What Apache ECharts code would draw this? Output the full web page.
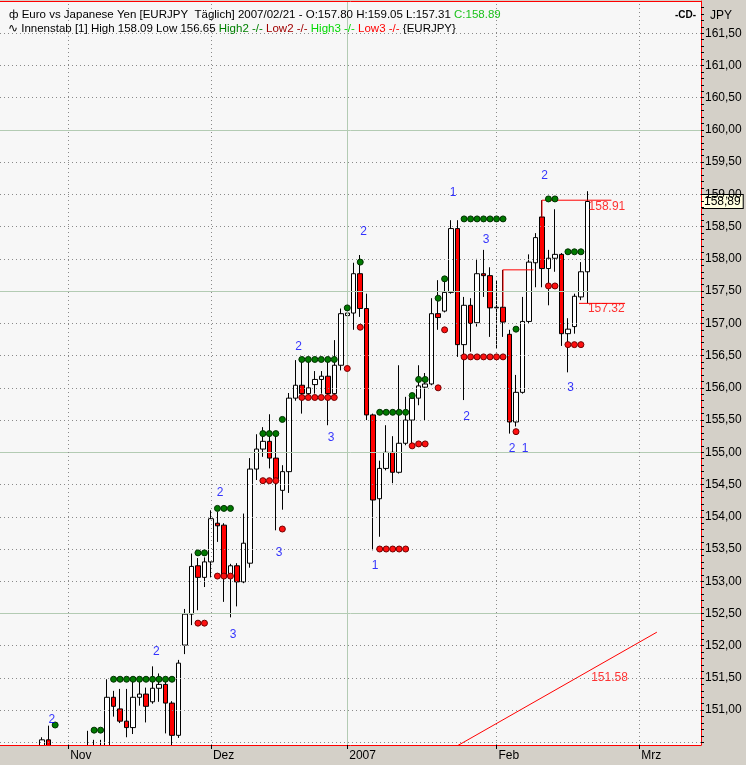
<!DOCTYPE html>
<html><head><meta charset="utf-8">
<script src="https://cdn.jsdelivr.net/npm/echarts@6/dist/echarts.min.js"></script>
<style>html,body{margin:0;padding:0;background:#D4D0C8}#c{width:746px;height:765px}</style>
</head><body><div id="c"></div>
<script>
// ---- categories: trading days (Oct 18 2006 .. Feb 21 2007) + future calendar days
const days = [
 '2006-10-18','2006-10-19','2006-10-20','2006-10-23','2006-10-24','2006-10-25','2006-10-26','2006-10-27','2006-10-30','2006-10-31',
 '2006-11-01','2006-11-02','2006-11-03','2006-11-06','2006-11-07','2006-11-08','2006-11-09','2006-11-10','2006-11-13','2006-11-14','2006-11-15','2006-11-16','2006-11-17','2006-11-20','2006-11-21','2006-11-22','2006-11-23','2006-11-24','2006-11-27','2006-11-28','2006-11-29','2006-11-30',
 '2006-12-01','2006-12-04','2006-12-05','2006-12-06','2006-12-07','2006-12-08','2006-12-11','2006-12-12','2006-12-13','2006-12-14','2006-12-15','2006-12-18','2006-12-19','2006-12-20','2006-12-21','2006-12-22','2006-12-25','2006-12-26','2006-12-27','2006-12-28','2006-12-29',
 '2007-01-01','2007-01-02','2007-01-03','2007-01-04','2007-01-05','2007-01-08','2007-01-09','2007-01-10','2007-01-11','2007-01-12','2007-01-15','2007-01-16','2007-01-17','2007-01-18','2007-01-19','2007-01-22','2007-01-23','2007-01-24','2007-01-25','2007-01-26','2007-01-29','2007-01-30','2007-01-31',
 '2007-02-01','2007-02-02','2007-02-05','2007-02-06','2007-02-07','2007-02-08','2007-02-09','2007-02-12','2007-02-13','2007-02-14','2007-02-15','2007-02-16','2007-02-19','2007-02-20','2007-02-21',
 '2007-02-22','2007-02-23','2007-02-24','2007-02-25','2007-02-26','2007-02-27','2007-02-28',
 '2007-03-01','2007-03-02','2007-03-03','2007-03-04','2007-03-05','2007-03-06','2007-03-07','2007-03-08','2007-03-09','2007-03-10'
];
const monthLabels = {'2006-11-01':'Nov','2006-12-01':'Dez','2007-01-01':'2007','2007-02-01':'Feb','2007-03-01':'Mrz'};
const yearStart = '2007-01-01';

// ---- OHLC
const opens = [149.62,149.80,149.70,149.95,150.20,150.05,150.30,150.54,150.25,150.10,
 149.80,150.00,149.90,150.25,150.40,150.30,150.42,151.20,151.02,150.83,150.73,151.20,151.25,151.13,151.34,151.40,151.11,150.61,152.01,152.49,153.24,153.06,
 153.30,153.90,153.87,153.08,153.24,152.99,153.28,154.74,155.05,155.17,154.91,154.41,154.70,155.84,156.04,155.91,156.05,156.13,156.18,155.91,156.35,
 157.12,157.16,157.77,157.23,155.58,154.28,154.75,155.00,154.69,155.14,155.50,155.84,156.01,156.06,157.15,157.19,157.48,158.47,156.67,157.28,157.01,157.77,157.74,
 157.24,157.25,156.83,155.47,155.93,157.03,157.94,158.65,157.85,158.01,158.07,156.84,156.95,157.41,157.80];
const highs = [149.95,150.05,150.10,150.30,150.40,150.35,150.58,150.76,150.42,150.30,
 150.20,150.30,150.40,150.68,150.54,150.54,151.48,151.30,151.33,151.33,151.45,151.45,151.35,151.68,151.57,151.52,151.14,151.78,152.57,153.43,153.36,153.37,
 154.10,154.08,153.90,153.27,153.28,154.05,154.91,155.28,155.39,155.59,155.30,154.80,155.92,156.43,156.40,156.44,156.26,156.26,156.40,156.74,157.23,
 157.20,157.94,158.06,157.46,155.60,154.87,155.42,155.25,156.35,155.86,155.91,156.35,156.23,157.39,157.67,157.69,158.60,158.60,157.41,157.39,158.00,158.14,157.87,
 157.67,157.83,156.90,156.20,157.41,158.07,158.40,158.91,158.14,158.77,158.09,157.08,157.46,157.95,159.05];
const lows = [149.40,149.55,149.50,149.75,149.90,149.85,150.15,150.05,149.90,149.60,
 149.60,149.70,149.80,150.00,150.10,150.10,150.30,150.90,150.80,150.58,150.63,151.07,150.81,151.10,151.13,150.64,150.45,150.57,151.87,152.32,152.55,152.91,
 153.06,153.61,152.68,152.44,152.61,152.97,153.21,154.57,154.93,154.75,153.79,154.11,154.37,155.80,155.60,155.85,155.91,155.91,155.42,155.85,156.27,
 157.05,156.90,157.10,155.50,153.48,153.69,154.72,154.52,154.67,155.11,155.09,155.73,155.50,156.04,156.90,157.17,157.46,156.48,155.81,156.56,156.95,157.41,156.79,
 156.61,156.79,155.29,155.40,155.91,157.00,157.56,157.56,157.28,157.80,156.65,156.24,156.84,157.36,157.31];
const closes = [149.80,149.70,149.95,150.20,150.05,150.30,150.54,150.25,150.10,149.80,
 150.00,149.90,150.25,150.40,150.30,150.42,151.20,151.06,150.83,150.73,151.20,151.25,151.06,151.34,151.40,151.11,150.61,151.73,152.49,153.23,153.06,153.30,
 153.97,153.86,153.07,153.24,152.99,153.59,154.74,155.05,155.17,154.91,154.56,154.70,155.84,156.04,155.91,156.00,156.13,156.18,155.91,156.35,157.15,
 157.16,157.77,157.23,155.58,154.26,154.75,155.00,154.69,155.14,155.50,155.84,156.03,156.06,157.15,157.09,157.48,158.47,156.67,157.28,157.00,157.77,157.74,157.24,
 157.25,157.02,155.47,155.93,157.03,157.95,158.33,157.85,158.01,158.07,156.84,156.91,157.42,157.80,158.89];

// ---- Innenstab levels [category index, price]
const highDots = [[8,150.77],[14,150.69],[15,150.69],
 [17,151.48],[18,151.48],[19,151.48],[20,151.48],[21,151.48],[22,151.48],[23,151.48],[24,151.48],[25,151.48],[26,151.48],
 [30,153.44],[31,153.44],[33,154.13],[34,154.13],[35,154.13],[40,155.29],[41,155.29],[42,155.29],[43,155.51],
 [46,156.44],[47,156.44],[48,156.44],[49,156.44],[50,156.44],[51,156.44],[53,157.24],[55,157.95],
 [58,155.62],[59,155.62],[60,155.62],[61,155.62],[62,155.62],[63,155.88],[64,156.13],[65,156.13],[67,157.39],[68,157.69],
 [71,158.62],[72,158.62],[73,158.62],[74,158.62],[75,158.62],[76,158.62],[77,158.62],[79,156.91],
 [84,158.93],[85,158.93],[87,158.11],[88,158.11],[89,158.11]];
const lowDots = [[30,152.35],[31,152.35],[33,153.08],[34,153.08],[35,153.08],[40,154.56],[41,154.56],[42,154.56],[43,153.81],
 [46,155.85],[47,155.85],[48,155.85],[49,155.85],[50,155.85],[51,155.85],[53,156.30],[55,156.94],
 [58,153.50],[59,153.50],[60,153.50],[61,153.50],[62,153.50],[63,155.10],[64,155.13],[65,155.13],[67,156.00],[68,156.90],
 [71,156.48],[72,156.48],[73,156.48],[74,156.48],[75,156.48],[76,156.48],[77,156.48],[79,155.32],
 [84,157.58],[85,157.58],[87,156.67],[88,156.67],[89,156.67]];
// counting labels [x index, price, text]
const countLabels = [[7.5,150.85,'2'],[23.6,151.91,'2'],[33.4,154.37,'2'],[35.4,152.17,'3'],[42.5,153.44,'3'],[45.5,156.64,'2'],
 [50.5,155.22,'3'],[55.5,158.42,'2'],[57.3,153.24,'1'],[69.3,159.02,'1'],[74.4,158.30,'3'],[71.4,155.55,'2'],
 [78.4,155.05,'2'],[80.4,155.05,'1'],[83.4,159.29,'2'],[87.4,156.00,'3']];
// red drawing lines
const redLine1 = [[77,157.26],[77,157.83],[81.7,157.83]];
const redLine2 = [[83,158.65],[83,158.91],[93.7,158.91]];
const redLine3 = [[88.7,157.31],[95.8,157.31]];
const trendLine = [[70,150.45],[100.7,152.21]];
const redTexts = [[90.1,158.81,'158.91'],[90.0,157.22,'157.32'],[90.5,151.50,'151.58']];
const lastPrice = 158.89;

// ---- axis ticks
const priceLevels = [150.5,151.0,151.5,152.0,152.5,153.0,153.5,154.0,154.5,155.0,155.5,156.0,156.5,157.0,157.5,158.0,158.5,159.0,159.5,160.0,160.5,161.0,161.5];
const yLabels = priceLevels.slice(1);
const minorTicks = [];
for (let v = 1505; v <= 1619; v++) minorTicks.push(v / 10);

const candleData = opens.map((o, j) => [o, closes[j], lows[j], highs[j]]);
const comma = v => v.toFixed(2).replace('.', ',');

const FONT = 'Liberation Sans, Arial, sans-serif';
const dotted = {type: [1, 3], color: '#8a8a8a', width: 1};
const solid = {type: 'solid', color: '#b3cbb3', width: 1};

const gridMarks = [];
priceLevels.forEach(v => gridMarks.push({yAxis: v, lineStyle: (Math.round(v * 10) % 25 === 0) ? solid : dotted}));
Object.keys(monthLabels).forEach(d => gridMarks.push({xAxis: d, lineStyle: d === yearStart ? solid : dotted}));

const chart = echarts.init(document.getElementById('c'), null, {renderer: 'canvas'});
chart.setOption({
  animation: false,
  backgroundColor: '#D4D0C8',
  textStyle: {fontFamily: FONT},
  graphic: [
    {type: 'rect', z: 50, silent: true, shape: {x: 0, y: 746, width: 746, height: 19}, style: {fill: '#D4D0C8'}}
  ],
  title: [
    {left: 4, top: 4, text: '{ic|ф} Euro vs Japanese Yen [EURJPY  Täglich] 2007/02/21 - O:157.80 H:159.05 L:157.31 {g|C:158.89}',
     textStyle: {fontSize: 11.5, fontWeight: 'normal', color: '#000', fontFamily: FONT, rich: {ic: {fontSize: 11.5, color: '#000'}, g: {fontSize: 11.5, color: '#1cc21c'}}}},
    {left: 3, top: 18, text: '{ic|∿} Innenstab [1] High 158.09 Low 156.65 {h2|High2 -/-} {l2|Low2 -/-} {h3|High3 -/-} {l3|Low3 -/-} {EURJPY}',
     textStyle: {fontSize: 11.5, fontWeight: 'normal', color: '#000', fontFamily: FONT, rich: {ic: {fontSize: 11.5, color: '#000'}, h2: {fontSize: 11.5, color: '#008000'}, l2: {fontSize: 11.5, color: '#a00000'}, h3: {fontSize: 11.5, color: '#00d800'}, l3: {fontSize: 11.5, color: '#ff0000'}}}},
    {left: 705, top: 5, text: 'JPY', textStyle: {fontSize: 12, fontWeight: 'normal', color: '#000', fontFamily: FONT}},
    {left: 670, top: 5, text: '-CD-', textStyle: {fontSize: 10, fontWeight: 'bold', color: '#000', backgroundColor: '#fff', fontFamily: FONT}}
  ],
  grid: {left: 0, top: 1, width: 701, height: 744, show: true, backgroundColor: '#F7F7F7', borderWidth: 0},
  xAxis: [
    {type: 'category', data: days, boundaryGap: true, position: 'bottom', z: 100,
     axisLine: {show: true, onZero: false, lineStyle: {color: '#ff0000', width: 1}},
     axisTick: {show: true, alignWithLabel: true, length: 4, lineStyle: {color: '#000'}, interval: (i, v) => !!monthLabels[v]},
     axisLabel: {show: true, interval: (i, v) => !!monthLabels[v], formatter: v => monthLabels[v] || '', align: 'left', padding: [0, 0, 0, 2], margin: 5, color: '#000', fontSize: 12, fontFamily: FONT},
     splitLine: {show: false}},
    {type: 'value', min: -0.5, max: 107.5, position: 'top', show: true, z: 100,
     axisLine: {show: true, onZero: false, lineStyle: {color: '#ff0000', width: 1}},
     axisTick: {show: false}, axisLabel: {show: false}, splitLine: {show: false}}
  ],
  yAxis: [{type: 'value', position: 'right', min: 150.46, max: 162.0, scale: true, z: 100,
     axisLine: {show: true, onZero: false, lineStyle: {color: '#ff0000', width: 1}},
     axisTick: {show: true, customValues: minorTicks, length: 3, lineStyle: {color: '#000'}},
     axisLabel: {show: true, customValues: yLabels, formatter: v => comma(v), margin: 4, color: '#000', fontSize: 12, fontFamily: FONT},
     splitLine: {show: false}}],
  series: [
    {type: 'line', xAxisIndex: 0, yAxisIndex: 0, data: [], z: 1, silent: true,
     markLine: {silent: true, symbol: ['none', 'none'], label: {show: false}, animation: false, data: gridMarks}},
    {type: 'candlestick', xAxisIndex: 0, yAxisIndex: 0, data: candleData, barWidth: 5, z: 3, clip: true,
     itemStyle: {color: '#ffffff', color0: '#ff0000', borderColor: '#000', borderColor0: '#000', borderWidth: 1},
     markLine: {silent: true, symbol: ['none', 'none'], lineStyle: {color: 'rgba(0,0,0,0)', width: 0},
       data: [{yAxis: lastPrice, label: {show: true, position: 'end', distance: 1, formatter: comma(lastPrice), color: '#000', fontSize: 12, fontFamily: FONT, backgroundColor: '#ffffe1', borderColor: '#000', borderWidth: 1, padding: [1, 2, 0, 2]}}]}},
    {type: 'line', xAxisIndex: 1, yAxisIndex: 0, data: redLine1, symbol: 'none', lineStyle: {color: '#ff0000', width: 1}, z: 4, clip: true, silent: true},
    {type: 'line', xAxisIndex: 1, yAxisIndex: 0, data: redLine2, symbol: 'none', lineStyle: {color: '#ff0000', width: 1}, z: 4, clip: true, silent: true},
    {type: 'line', xAxisIndex: 1, yAxisIndex: 0, data: redLine3, symbol: 'none', lineStyle: {color: '#ff0000', width: 1}, z: 4, clip: true, silent: true},
    {type: 'line', xAxisIndex: 1, yAxisIndex: 0, data: trendLine, symbol: 'none', lineStyle: {color: '#ff0000', width: 1}, z: 4, clip: true, silent: true},
    {type: 'scatter', xAxisIndex: 1, yAxisIndex: 0, data: highDots, symbol: 'circle', symbolSize: 6, z: 5, clip: true,
     itemStyle: {color: '#007a00', borderColor: '#003000', borderWidth: 1, opacity: 1}},
    {type: 'scatter', xAxisIndex: 1, yAxisIndex: 0, data: lowDots, symbol: 'circle', symbolSize: 6, z: 5, clip: true,
     itemStyle: {color: '#ff1010', borderColor: '#700000', borderWidth: 1, opacity: 1}},
    {type: 'scatter', xAxisIndex: 1, yAxisIndex: 0, data: countLabels.map(a => ({value: [a[0], a[1]], name: a[2]})), symbolSize: 1, z: 6,
     itemStyle: {color: 'rgba(0,0,0,0)'},
     label: {show: true, position: 'inside', formatter: p => p.name, color: '#0000ff', fontSize: 12, fontFamily: FONT}},
    {type: 'scatter', xAxisIndex: 1, yAxisIndex: 0, data: redTexts.map(a => ({value: [a[0], a[1]], name: a[2]})), symbolSize: 1, z: 6,
     itemStyle: {color: 'rgba(0,0,0,0)'},
     label: {show: true, position: 'right', distance: 0, formatter: p => p.name, color: '#ff0000', fontSize: 12, fontFamily: FONT}}
  ]
});
</script>
</body></html>
